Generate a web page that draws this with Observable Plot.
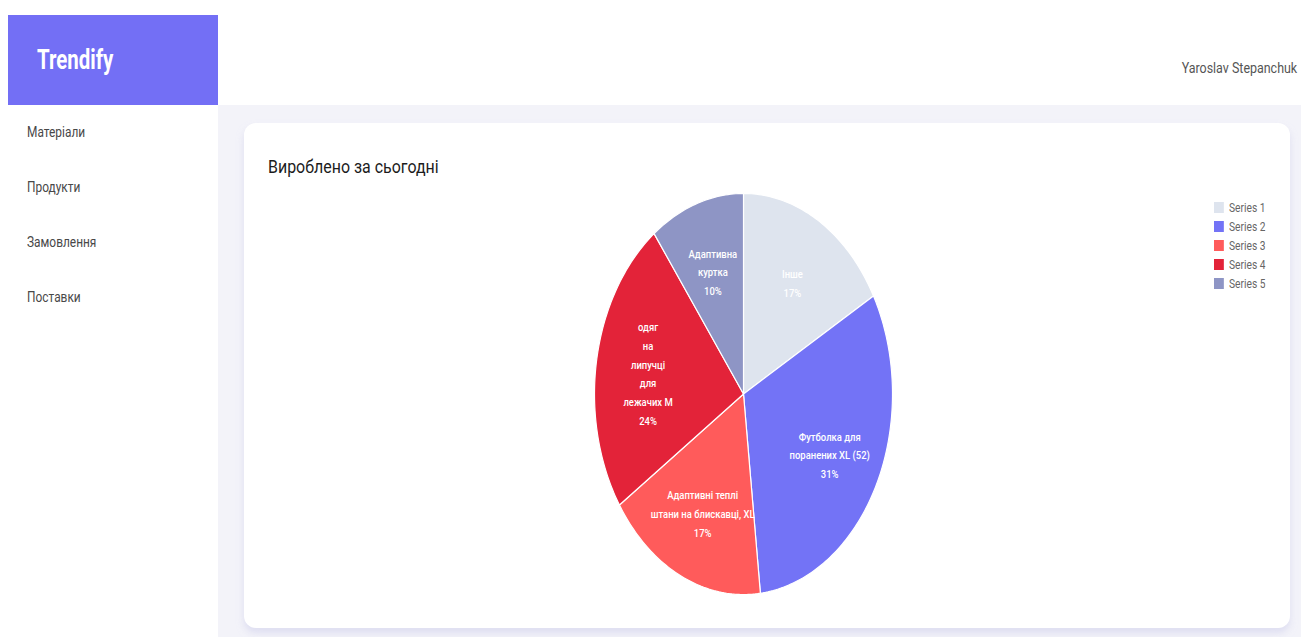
<!DOCTYPE html>
<html>
<head>
<meta charset="utf-8">
<script src="https://cdn.jsdelivr.net/npm/d3@7"></script>
<script src="https://cdn.jsdelivr.net/npm/@observablehq/plot@0.6"></script>
<style>
  html, body { margin: 0; padding: 0; }
  body { width: 1301px; height: 637px; position: relative; overflow: hidden; background: #ffffff; font-family: Roboto, "Noto Sans", sans-serif; }
  .abs { position: absolute; }
  .main-bg { left: 218px; top: 105px; right: 0; bottom: 0; background: #f3f3f9; }
  .logo { left: 8px; top: 15px; width: 210px; height: 90px; background: #736ff5; }
  .logo span { position: absolute; left: 29px; top: 28px; color: #fff; font-weight: 700; font-size: 28px; transform: scaleX(0.73); transform-origin: left center; line-height: 34px; }
  .nav { left: 27px; font-size: 14px; color: #484848; transform: scaleX(0.85); transform-origin: left center; line-height: 18px; }
  .user { right: 4px; top: 59px; font-size: 15px; color: #555; transform: scaleX(0.83); transform-origin: right center; line-height: 18px; }
  .card { left: 244px; top: 123px; width: 1046px; height: 505px; background: #fff; border-radius: 12px; box-shadow: 0 5px 7px rgba(205, 205, 235, 0.55); }
  .title { left: 268px; top: 156px; font-size: 19px; color: #1c1c1c; font-weight: 400; transform: scaleX(0.84); transform-origin: left center; line-height: 22px; }
  #pie { left: 593px; top: 192px; }
  #legend { left: 1214px; top: 198px; transform: scaleX(0.82); transform-origin: left top; }
  #legend > div > div { height: 19px !important; margin: 0 !important; padding: 0 !important; display: flex; align-items: center; }
  #legend div, #legend span { font-family: Roboto, sans-serif; }
</style>
</head>
<body>
<div class="abs main-bg"></div>
<div class="abs logo"><span>Trendify</span></div>
<div class="abs nav" style="top:123px">Матеріали</div>
<div class="abs nav" style="top:178px">Продукти</div>
<div class="abs nav" style="top:233px">Замовлення</div>
<div class="abs nav" style="top:288px">Поставки</div>
<div class="abs user">Yaroslav Stepanchuk</div>
<div class="abs card"></div>
<div class="abs title">Вироблено за сьогодні</div>
<div class="abs" id="pie"></div>
<div class="abs" id="legend"></div>
<script>
// ---- data ----
const series = ["Series 1", "Series 2", "Series 3", "Series 4", "Series 5"];
const labels = ["Інше", "Футболка для\nпоранених XL (52)", "Адаптивні теплі\nштани на блискавці, XL", "одяг\nна\nлипучці\nдля\nлежачих М", "Адаптивна\nкуртка"];
const values = [28, 52, 29, 40, 17];
const colors = ["#dee4ee", "#7373f6", "#ff5b5b", "#e32339", "#8e95c5"];

// ---- build slices ----
const total = d3.sum(values);
const rows = series.map((s, i) => ({series: s, label: labels[i], value: values[i]}));
const arcs = d3.pie().sort(null).value(d => d.value).startAngle(0).endAngle(2 * Math.PI)(rows);

const poly = [];
const labelPts = [];
arcs.forEach(a => {
  const s = a.data.series;
  poly.push({series: s, x: 0, y: 0});
  const n = Math.max(2, Math.ceil((a.endAngle - a.startAngle) / (Math.PI / 180)));
  for (let k = 0; k <= n; k++) {
    const t = a.startAngle + (a.endAngle - a.startAngle) * k / n;
    poly.push({series: s, x: Math.sin(t), y: Math.cos(t)});
  }
  poly.push({series: s, x: 0, y: 0});
  const m = (a.startAngle + a.endAngle) / 2;
  const r = 0.65;
  labelPts.push({
    series: s,
    x: r * Math.sin(m),
    y: r * Math.cos(m),
    text: a.data.label + "\n" + Math.round(a.data.value / total * 100) + "%"
  });
});

const W = 300, H = 403;
const chart = Plot.plot({
  width: W,
  height: H,
  margin: 1,
  x: {domain: [-1, 1], axis: null},
  y: {domain: [-1, 1], axis: null},
  color: {domain: series, range: colors},
  style: {background: "transparent", overflow: "visible"},
  marks: [
    Plot.line(poly, {x: "x", y: "y", z: "series", fill: "series", stroke: "#ffffff", strokeWidth: 1.2, strokeLinejoin: "round", curve: "linear"}),
    Plot.text(labelPts, {x: "x", y: "y", text: "text", fill: "#ffffff", fontSize: 11, fontWeight: 500, lineHeight: 1.7, fontFamily: "Roboto, sans-serif"})
  ]
});
// narrow the slice labels horizontally, as in the reference
d3.select(chart).selectAll("text").each(function () {
  const t = this.getAttribute("transform") || "";
  this.setAttribute("transform", t + " scale(0.86,1)");
});
document.getElementById("pie").appendChild(chart);

const leg = Plot.legend({
  color: {domain: series, range: colors},
  legend: "swatches",
  columns: 1,
  swatchWidth: 12,
  swatchHeight: 11,
  style: {fontSize: "12.5px", color: "#666", fontFamily: "Roboto, sans-serif"}
});
document.getElementById("legend").appendChild(leg);
</script>
</body>
</html>
